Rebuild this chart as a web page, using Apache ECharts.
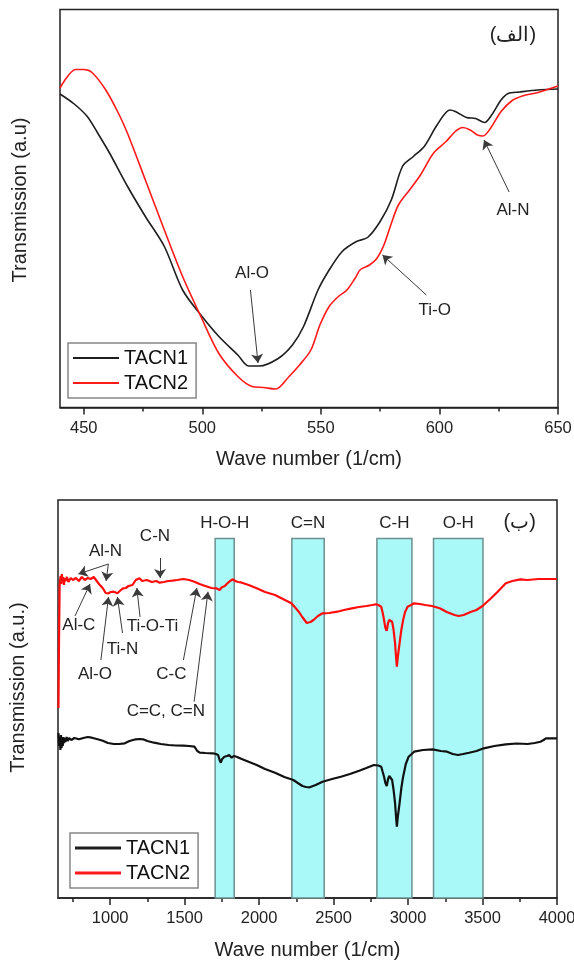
<!DOCTYPE html>
<html><head><meta charset="utf-8">
<script src="https://cdn.jsdelivr.net/npm/echarts@6/dist/echarts.min.js"></script>
<style>html,body{margin:0;padding:0;background:#fff}#c{width:574px;height:961px}</style>
</head><body><div id="c"></div>
<script>
// ---------- Panel (الف): 440-650 1/cm ----------
const topX_TACN1 = [440,446,451.5,456,461,468.5,476,484,491.7,499.4,507,515,519.5,524,532,538,542.7,548.8,553.5,559,565,569.7,575,579.7,584.4,589,593.6,599,604.4,606.7,611.4,615.3,619,622,626,629,633.8,641.5,650];
const topY_TACN1 = [313.5,303.5,291,274,254,221,191,161,117.5,92.5,71,52.5,41.5,41.5,49,62.5,81,117.5,137.5,156,166,170,186,207.5,241,251,261,282.5,297.5,296,290,289,285,292.5,307.5,314,315.5,317.5,318.5];
const topX_TACN2 = [440,446.6,450,453.5,459.3,464.7,468.5,476,484,491.7,499.4,507,515,521,525.7,531,536.6,541,545.8,549.6,553.5,557.4,561,564.5,566.7,570.5,573.6,576.6,579.7,582.7,587.4,592,597.4,602.8,606.7,609.8,613,616,618.4,621.5,626,630.7,635,641.5,650];
const topY_TACN2 = [319.5,338,338,335,317.5,294,274,227.5,177.5,131,91,54,31,21,20,18.5,31,42.5,57.5,82.5,101,111,117.5,129.5,138,142.5,149,162.5,184,202.5,217.5,232.5,254,266,276,280,277.5,272.5,271.5,279,296,307,311.5,315,321.5];
const topMajorTicks = [450,500,550,600,650];
const topMinorTicks = [475,525,575,625];

// ---------- Panel (ب): 650-4000 1/cm ----------
const botX_TACN1 = [653,658,662,666,670,674,678,682,686,690,695,700,708,716,725,740,760,791,820,850,877,910,951,985,1025,1060,1098,1130,1172,1200,1221,1250,1295,1340,1393,1440,1492,1530,1566,1585,1602,1640,1689,1710,1725,1735,1743,1752,1767,1785,1799,1808,1816,1830,1848,1900,1984,2040,2107,2170,2230,2260,2291,2315,2340,2380,2426,2490,2549,2610,2672,2720,2771,2800,2820,2830,2839,2848,2857,2866,2874,2884,2893,2903,2913,2920,2925,2932,2943,2955,2967,2985,3004,3041,3100,3164,3220,3262,3300,3336,3370,3410,3460,3508,3580,3656,3730,3803,3850,3889,3910,3926,3960,4000];
const botY_TACN1 = [165,152,160,148,163,150,158,152,161,155,160,156,161,157,160,158,160,158.7,160,161,160.3,159,157.3,155,154,154,154.7,157,158.7,159,158.7,157,155.3,154,153,152.5,152.3,152,151.3,147,145.3,145,144.7,144,143,138,135.3,139,141.3,142,143,141,140.3,142,141.3,138,133,129,125.3,121,118,115,112,111,110.7,113,116.3,119,121.3,124,127.3,130,133,132.5,131.3,126,121.3,115,112,119,122,121,118,108,94.7,80,71.3,82,94.7,110,121.3,134,141.3,146.3,148,148.7,147,146.3,144,143,144,145.3,147,149.7,152,153.7,154.5,154,155,156.3,158,159.7,159.7,159.7];
const botX_TACN2 = [653,657,661,664,668,672,676,680,685,690,695,700,710,720,735,750,770,790,810,830,850,870,890,902,925,951,970,988,1005,1025,1049,1065,1086,1105,1123,1150,1172,1185,1197,1215,1246,1280,1310,1332,1360,1390,1418,1450,1492,1530,1566,1600,1639,1680,1713,1735,1750,1770,1787,1805,1824,1840,1860,1885,1930,1984,2040,2107,2160,2217,2245,2266,2290,2303,2320,2328,2345,2365,2395,2426,2470,2525,2570,2623,2670,2721,2760,2783,2800,2820,2830,2839,2848,2857,2866,2874,2884,2893,2903,2913,2920,2925,2932,2943,2955,2967,2980,2997,3020,3041,3080,3115,3160,3213,3260,3312,3340,3373,3420,3459,3500,3557,3600,3656,3700,3754,3800,3877,3940,4000];
const botY_TACN2 = [190,260,312,318,322,314,324,316,321,313,320,317,321,316,320,318,320,317,321,318,320,319,321,319,314,309.7,305,304.7,306,306.3,304.7,307,309.7,310,312,313,318,320,319.7,317,318,316,317,315.3,316,317,317.3,318,319,318,316.3,314,312,310,309.7,308,310.7,312,314.7,317,318.7,317,316,315.3,313,309.7,306,303,299,294.7,290,286.3,281,279.7,275,273,276,278,282,284.7,285,286.3,288,289.7,291,292,293,293.7,293,291.3,285,278,270,267.3,275,278,278,276.3,268,254.7,240,231.3,242,254.7,268,278,286,291.3,293,294.7,294,293,292,289.7,286,283,282,283,286,288,292,299.7,306,314.7,317,318.7,318,319,319,319];
const botMajorTicks = [1000,1500,2000,2500,3000,3500,4000];
const botMinorTicks = [750,1250,1750,2250,2750,3250,3750];

// Highlighted bands: [name, from, to]
const bandNames = ['H-O-H','C=N','C-H','O-H'];
const bandFrom = [1705,2220,2791,3171];
const bandTo = [1833,2437,3026,3503];
const bandTop = 359.5;

const FONT = "'Liberation Sans', Arial, sans-serif";
const zip = (xs, ys) => xs.map((x, i) => [x, ys[i]]);

function arrows(list){
  return list.map(a => [{coord:[a[0],a[1]]},{coord:[a[2],a[3]]}]);
}
function texts(list){
  return list.map(t => ({name:t[0], coord:[t[1],t[2]], label:{fontSize:t[3]||17}}));
}
const markLineStyle = {
  silent:true, animation:false, symbol:['none','arrow'], symbolSize:9, symbolOffset:0, precision:2,
  label:{show:false}, emphasis:{disabled:true},
  lineStyle:{color:'#3a3a3a', width:1, type:'solid'}
};
function markPts(list){
  return {
    silent:true, animation:false, symbol:'rect', symbolSize:1,
    itemStyle:{color:'rgba(0,0,0,0)'},
    label:{show:true, position:'inside', formatter:'{b}', color:'#222', fontSize:17, fontFamily:FONT},
    emphasis:{disabled:true},
    data: texts(list)
  };
}

// Annotations (label, x, y[, size]) and arrows (x1,y1,x2,y2) in data units
const topLabels = [['Al-O',521,134.5],['Ti-O',598,97.5],['Al-N',631,197.5],['(الف)',631,372.5,20]];
const topArrows = [[520.3,117.5,523.5,44.5],[594.5,112.5,576,152.5],[629.4,215.5,618.8,267.5]];
const botLabels = [['Al-N',969,347],['C-N',1301,361.3],['Al-C',790,273],['Ti-O-Ti',1284,271.3],['Ti-N',1083,248.7],['Al-O',898,223.7],['C-C',1411,223.7],['C=C, C=N',1374,186.3],['(ب)',3750,375.5,20]];
const botArrows = [[988,334,787,324],[988,334,973,317],[1335,340,1335,320],[764,282,865,314],[1201,281,1179,310],[1083,265,1049,301],[938,238,989,301],[1492,238,1582,310],[1564,196.3,1657,306.3]];

const chart = echarts.init(document.getElementById('c'), null, {renderer:'canvas'});

function mainX(grid, min, max, majors, nameGap){
  return {
    gridIndex:grid, type:'value', min:min, max:max, position:'bottom',
    axisLine:{show:true, onZero:false, lineStyle:{color:'#222', width:1.5}},
    axisTick:{show:true, customValues:majors, length:7, inside:false, lineStyle:{color:'#222', width:1.5}},
    axisLabel:{show:true, customValues:majors, fontSize:16.5, color:'#222', margin:12, fontFamily:FONT, formatter:v => String(v)},
    splitLine:{show:false},
    name:'Wave number (1/cm)', nameLocation:'middle', nameGap:nameGap,
    nameTextStyle:{fontSize:20, color:'#222', fontFamily:FONT}
  };
}
function minorX(grid, min, max, minors){
  return {
    gridIndex:grid, type:'value', min:min, max:max, position:'bottom',
    axisLine:{show:false, onZero:false},
    axisTick:{show:true, customValues:minors, length:4, lineStyle:{color:'#222', width:1.5}},
    axisLabel:{show:false}, splitLine:{show:false}
  };
}
function yAx(grid, name, pad){
  return {
    gridIndex:grid, type:'value', min:0, max:398,
    axisLine:{show:false}, axisTick:{show:false}, axisLabel:{show:false}, splitLine:{show:false},
    name:name, nameLocation:'middle', nameGap:30,
    nameTextStyle:{fontSize:20, color:'#222', fontFamily:FONT, padding:[0,0,0,pad]}
  };
}
function legendAt(left, top, h){
  return {
    orient:'vertical', left:left, top:top, data:['TACN1','TACN2'], icon:'rect',
    itemWidth:46, itemHeight:h, itemGap:5, padding:[5,8,5,5],
    borderColor:'#888', borderWidth:1.5, backgroundColor:'#fff', selectedMode:false,
    textStyle:{fontSize:20, color:'#111', fontFamily:FONT}
  };
}

const option = {
  animation:false,
  backgroundColor:'#fff',
  textStyle:{fontFamily:FONT},
  grid:[
    {left:60, top:9.5, width:498, height:398, show:true, borderColor:'#222', borderWidth:1.5, backgroundColor:'transparent', outerBoundsMode:'none', containLabel:false},
    {left:58, top:500, width:499, height:398, show:true, borderColor:'#222', borderWidth:1.5, backgroundColor:'transparent', outerBoundsMode:'none', containLabel:false}
  ],
  xAxis:[
    mainX(0,440,650,topMajorTicks,42),
    minorX(0,440,650,topMinorTicks),
    mainX(1,650,4000,botMajorTicks,42),
    minorX(1,650,4000,botMinorTicks)
  ],
  yAxis:[ yAx(0,'Transmission (a.u)',17), yAx(1,'Transmission (a.u.)',23) ],
  legend:[ legendAt(68,343,2), legendAt(70,833,3) ],
  series:[
    {name:'TACN1', type:'line', xAxisIndex:0, yAxisIndex:0, data:zip(topX_TACN1, topY_TACN1),
     smooth:0.3, symbol:'none', lineStyle:{color:'#1e1e1e', width:1.6}, itemStyle:{color:'#1e1e1e'},
     markLine:Object.assign({data:arrows(topArrows)}, markLineStyle),
     markPoint:markPts(topLabels)
    },
    {name:'TACN2', type:'line', xAxisIndex:0, yAxisIndex:0, data:zip(topX_TACN2, topY_TACN2),
     smooth:0.3, symbol:'none', lineStyle:{color:'#ff1a1a', width:1.6}, itemStyle:{color:'#ff1a1a'}},
    {name:'TACN1', type:'line', xAxisIndex:2, yAxisIndex:1, data:zip(botX_TACN1, botY_TACN1),
     symbol:'none', lineStyle:{color:'#111', width:2.2}, itemStyle:{color:'#111'},
     markArea:{
       silent:true, animation:false,
       itemStyle:{color:'#aaf9f9', borderColor:'#6d8f8f', borderWidth:1.5},
       label:{show:true, position:'top', distance:6, color:'#222', fontSize:17, fontFamily:FONT},
       emphasis:{disabled:true},
       data: bandNames.map((n,i)=>[{name:n, xAxis:bandFrom[i], yAxis:0},{xAxis:bandTo[i], yAxis:bandTop}])
     },
     markLine:Object.assign({data:arrows(botArrows)}, markLineStyle),
     markPoint:markPts(botLabels)
    },
    {name:'TACN2', type:'line', xAxisIndex:2, yAxisIndex:1, data:zip(botX_TACN2, botY_TACN2),
     symbol:'none', lineStyle:{color:'#ff0d0d', width:2.2}, itemStyle:{color:'#ff0d0d'}}
  ]
};
chart.setOption(option);
</script>
</body></html>
